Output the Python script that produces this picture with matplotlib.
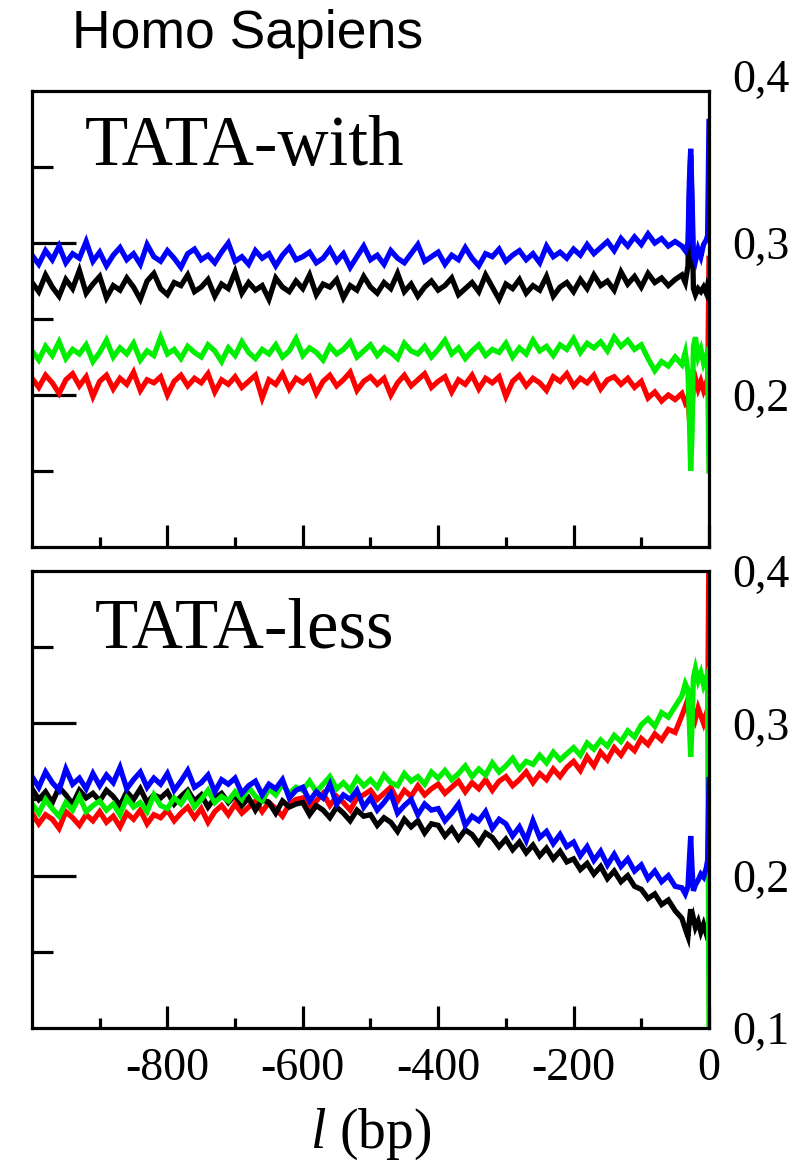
import numpy as np
import matplotlib.pyplot as plt
from matplotlib.ticker import FuncFormatter
from matplotlib.transforms import ScaledTranslation

plt.rcParams['font.family'] = 'Liberation Serif'
plt.rcParams['axes.unicode_minus'] = False
plt.rcParams['mathtext.fontset'] = 'custom'
plt.rcParams['mathtext.it'] = 'Liberation Serif:italic'
plt.rcParams['mathtext.rm'] = 'Liberation Serif'

# positions (bp): every 10 bp up to -50, then finer near the TSS
l_bulk = np.arange(-1000, -40, 10)
l_tail = np.array([-40, -35, -31, -29, -27, -25, -23, -20, -16, -12, -8, -4, -2, 0])
l_pos = np.concatenate([l_bulk, l_tail])

# ---- TATA-with ----
with_blue = [
    0.292, 0.286, 0.295, 0.289, 0.298, 0.287, 0.293, 0.290, 0.301, 0.288,
    0.294, 0.285, 0.292, 0.297, 0.289, 0.293, 0.286, 0.299, 0.291, 0.288,
    0.295, 0.290, 0.284, 0.293, 0.296, 0.289, 0.292, 0.287, 0.294, 0.300,
    0.288, 0.291, 0.286, 0.295, 0.290, 0.293, 0.285, 0.292, 0.297, 0.289,
    0.291, 0.294, 0.287, 0.290, 0.296, 0.288, 0.293, 0.284, 0.291, 0.298,
    0.289, 0.292, 0.286, 0.295, 0.290, 0.287, 0.293, 0.299, 0.288, 0.291,
    0.294, 0.286, 0.292, 0.289, 0.297, 0.290, 0.285, 0.293, 0.291, 0.296,
    0.288, 0.292, 0.295, 0.289, 0.293, 0.287, 0.298, 0.291, 0.294, 0.290,
    0.296, 0.292, 0.299, 0.293, 0.297, 0.301, 0.295, 0.303, 0.298, 0.304,
    0.299, 0.306, 0.300, 0.303, 0.298, 0.301,
    0.298, 0.295, 0.300, 0.340, 0.362, 0.330, 0.292, 0.288, 0.296, 0.291,
    0.299, 0.302, 0.305, 0.380]
with_black = [
    0.274, 0.268, 0.279, 0.271, 0.265, 0.276, 0.270, 0.282, 0.267, 0.273,
    0.278, 0.264, 0.272, 0.269, 0.277, 0.271, 0.263, 0.275, 0.280, 0.270,
    0.266, 0.274, 0.272, 0.279, 0.268, 0.271, 0.276, 0.265, 0.273, 0.270,
    0.281, 0.267, 0.274, 0.269, 0.272, 0.263, 0.277, 0.271, 0.268, 0.275,
    0.270, 0.279, 0.266, 0.273, 0.271, 0.276, 0.264, 0.272, 0.269, 0.278,
    0.271, 0.267, 0.274, 0.270, 0.280, 0.268, 0.273, 0.265, 0.271, 0.275,
    0.269, 0.272, 0.277, 0.266, 0.270, 0.274, 0.268, 0.279, 0.271, 0.263,
    0.273, 0.270, 0.276, 0.267, 0.272, 0.269, 0.278, 0.265, 0.271, 0.274,
    0.268, 0.276, 0.270, 0.279, 0.272, 0.275, 0.269, 0.281, 0.273, 0.278,
    0.271, 0.280, 0.274, 0.277, 0.272, 0.276,
    0.279, 0.274, 0.285, 0.330, 0.358, 0.320, 0.270, 0.266, 0.270, 0.268,
    0.271, 0.267, 0.272, 0.270]
with_green = [
    0.229, 0.223, 0.232, 0.226, 0.235, 0.224, 0.230, 0.227, 0.233, 0.222,
    0.228, 0.236, 0.225, 0.231, 0.227, 0.234, 0.223, 0.229, 0.226, 0.238,
    0.227, 0.230, 0.224, 0.232, 0.228, 0.225, 0.233, 0.229, 0.222, 0.231,
    0.226, 0.235, 0.228, 0.224, 0.230, 0.227, 0.233, 0.225, 0.229, 0.237,
    0.226, 0.231, 0.228, 0.223, 0.232, 0.227, 0.230, 0.235, 0.225, 0.229,
    0.233, 0.226, 0.231, 0.228, 0.224, 0.234, 0.229, 0.227, 0.232, 0.225,
    0.230, 0.236, 0.227, 0.231, 0.224, 0.229, 0.233, 0.226, 0.230, 0.228,
    0.234, 0.225, 0.231, 0.227, 0.236, 0.229, 0.232, 0.226, 0.233, 0.230,
    0.237, 0.228, 0.234, 0.231, 0.235, 0.229, 0.238, 0.232, 0.236, 0.230,
    0.233, 0.224, 0.216, 0.222, 0.219, 0.225,
    0.220, 0.228, 0.215, 0.185, 0.150, 0.175, 0.232, 0.238, 0.225, 0.230,
    0.221, 0.226, 0.220, 0.150]
with_red = [
    0.211, 0.205, 0.213, 0.208, 0.201, 0.210, 0.214, 0.206, 0.212, 0.199,
    0.209, 0.213, 0.204, 0.211, 0.207, 0.215, 0.203, 0.210, 0.208, 0.212,
    0.200, 0.209, 0.213, 0.206, 0.211, 0.208, 0.214, 0.202, 0.210, 0.207,
    0.212, 0.205, 0.209, 0.213, 0.198, 0.210, 0.207, 0.214, 0.204, 0.211,
    0.208, 0.212, 0.201, 0.209, 0.213, 0.206, 0.210, 0.215, 0.203, 0.209,
    0.212, 0.207, 0.211, 0.200, 0.208, 0.213, 0.206, 0.210, 0.214, 0.205,
    0.209, 0.212, 0.202, 0.210, 0.207, 0.213, 0.204, 0.211, 0.208, 0.212,
    0.199, 0.209, 0.213, 0.206, 0.211, 0.208, 0.203, 0.212, 0.209, 0.214,
    0.206, 0.211, 0.208, 0.213, 0.204, 0.210, 0.212, 0.207, 0.211, 0.205,
    0.209, 0.198, 0.202, 0.196, 0.200, 0.197,
    0.201, 0.195, 0.198, 0.185, 0.176, 0.190, 0.207, 0.211, 0.204, 0.209,
    0.203, 0.208, 0.200, 0.290]

# ---- TATA-less ----
less_blue = [
    0.265, 0.258, 0.268, 0.261, 0.256, 0.270, 0.260, 0.264, 0.257, 0.267,
    0.259, 0.266, 0.261, 0.271, 0.257, 0.263, 0.268, 0.258, 0.264, 0.260,
    0.267, 0.256, 0.262, 0.269, 0.258, 0.261, 0.266, 0.255, 0.263, 0.260,
    0.264, 0.254, 0.259, 0.262, 0.253, 0.260, 0.257, 0.263, 0.251, 0.256,
    0.258, 0.249, 0.255, 0.251, 0.260, 0.247, 0.253, 0.250, 0.256, 0.245,
    0.251, 0.243, 0.248, 0.254, 0.241, 0.246, 0.250, 0.240, 0.247, 0.243,
    0.244, 0.236, 0.241, 0.247, 0.233, 0.239, 0.236, 0.242, 0.231, 0.237,
    0.234, 0.226, 0.232, 0.223, 0.236, 0.225, 0.229, 0.221, 0.227, 0.219,
    0.222, 0.213, 0.219, 0.210, 0.216, 0.207, 0.214, 0.206, 0.211, 0.203,
    0.207, 0.198, 0.203, 0.196, 0.200, 0.193,
    0.192, 0.188, 0.193, 0.210, 0.226, 0.205, 0.190, 0.194, 0.197, 0.201,
    0.199, 0.205, 0.210, 0.263]
less_black = [
    0.257, 0.250, 0.255, 0.248, 0.258, 0.253, 0.247, 0.256, 0.251, 0.254,
    0.249, 0.256, 0.252, 0.246, 0.255, 0.250, 0.257, 0.248, 0.253, 0.251,
    0.255, 0.247, 0.252, 0.256, 0.249, 0.253, 0.245, 0.251, 0.254, 0.248,
    0.253, 0.246, 0.251, 0.243, 0.250, 0.248, 0.241, 0.249, 0.245, 0.247,
    0.248, 0.240, 0.246, 0.243, 0.238, 0.245, 0.241, 0.236, 0.243, 0.239,
    0.240, 0.233, 0.238, 0.235, 0.229, 0.237, 0.232, 0.236, 0.228, 0.234,
    0.233, 0.226, 0.231, 0.224, 0.230, 0.227, 0.221, 0.228, 0.225, 0.219,
    0.224, 0.217, 0.222, 0.215, 0.220, 0.213, 0.218, 0.211, 0.216, 0.209,
    0.211, 0.204, 0.208, 0.201, 0.206, 0.198, 0.203, 0.196, 0.200, 0.193,
    0.191, 0.185, 0.188, 0.181, 0.184, 0.177,
    0.172, 0.165, 0.160, 0.170, 0.178, 0.168, 0.172, 0.166, 0.170, 0.163,
    0.168, 0.162, 0.166, 0.165]
less_green = [
    0.247, 0.241, 0.250, 0.244, 0.239, 0.248, 0.243, 0.252, 0.242, 0.246,
    0.249, 0.243, 0.247, 0.240, 0.251, 0.245, 0.248, 0.242, 0.253, 0.246,
    0.244, 0.251, 0.247, 0.254, 0.245, 0.250, 0.256, 0.248, 0.252, 0.249,
    0.255, 0.250, 0.258, 0.252, 0.249, 0.257, 0.253, 0.260, 0.254, 0.258,
    0.256, 0.262, 0.255, 0.260, 0.265, 0.257, 0.261, 0.256, 0.264, 0.259,
    0.263, 0.258, 0.266, 0.261, 0.259, 0.267, 0.262, 0.265, 0.260, 0.268,
    0.264, 0.269, 0.263, 0.267, 0.272, 0.265, 0.270, 0.266, 0.274, 0.268,
    0.272, 0.277, 0.270, 0.275, 0.273, 0.279, 0.274, 0.281, 0.276, 0.280,
    0.284, 0.279, 0.287, 0.283, 0.289, 0.285, 0.292, 0.288, 0.295, 0.291,
    0.299, 0.303, 0.298, 0.307, 0.304, 0.311,
    0.318, 0.326, 0.322, 0.300, 0.278, 0.298, 0.330, 0.336, 0.328, 0.333,
    0.325, 0.330, 0.320, 0.100]
less_red = [
    0.241, 0.234, 0.240, 0.237, 0.231, 0.242, 0.238, 0.233, 0.240, 0.236,
    0.242, 0.235, 0.239, 0.232, 0.241, 0.237, 0.243, 0.234, 0.240, 0.238,
    0.243, 0.236, 0.241, 0.245, 0.238, 0.244, 0.235, 0.242, 0.246, 0.240,
    0.247, 0.241, 0.245, 0.249, 0.242, 0.248, 0.244, 0.239, 0.247, 0.250,
    0.251, 0.245, 0.249, 0.254, 0.246, 0.252, 0.248, 0.243, 0.251, 0.253,
    0.256, 0.250, 0.254, 0.258, 0.249, 0.256, 0.252, 0.259, 0.253, 0.257,
    0.260, 0.254, 0.258, 0.262, 0.255, 0.261, 0.257, 0.263, 0.256, 0.262,
    0.265, 0.259, 0.263, 0.268, 0.261, 0.267, 0.263, 0.270, 0.265, 0.271,
    0.275, 0.269, 0.278, 0.272, 0.281, 0.276, 0.284, 0.279, 0.286, 0.282,
    0.290, 0.286, 0.293, 0.289, 0.296, 0.294,
    0.305, 0.311, 0.316, 0.305, 0.292, 0.300, 0.308, 0.303, 0.310, 0.305,
    0.300, 0.306, 0.298, 0.420]

x_ticks = [-800, -600, -400, -200, 0]
x_minor = [-900, -700, -500, -300, -100]


def fmt_comma(v, pos):
    return ("%.1f" % v).replace(".", ",")


fig = plt.figure(figsize=(8.04, 11.63), dpi=100)
ax1 = fig.add_axes([0.0398, 0.5297, 0.842, 0.392])
ax2 = fig.add_axes([0.0398, 0.1161, 0.842, 0.393])

panels = [
    (ax1, "TATA-with", [(with_red, "#ff0000"), (with_green, "#00ee00"),
                        (with_black, "black"), (with_blue, "#0000ff")],
     [0.2, 0.3, 0.4], (0.078, 0.838)),
    (ax2, "TATA-less", [(less_red, "#ff0000"), (less_black, "black"),
                        (less_green, "#00ee00"), (less_blue, "#0000ff")],
     [0.1, 0.2, 0.3, 0.4], (0.093, 0.832)),
]

for ax, name, series, rlabels, tpos in panels:
    for vals, col in series:
        ax.plot(l_pos, vals, color=col, lw=3.8, solid_joinstyle="miter")
    ax.set_xlim(-1000, 0)
    ax.set_ylim(0.1, 0.4)
    for s in ax.spines.values():
        s.set_linewidth(2.3)
    ax.set_xticks(x_ticks)
    ax.set_xticks(x_minor, minor=True)
    ax.set_yticks([0.2, 0.3])
    ax.set_yticks([0.15, 0.25, 0.35], minor=True)
    ax.tick_params(axis="x", which="major", direction="in", length=16, width=2.3,
                   labelsize=33, pad=14)
    ax.tick_params(axis="x", which="minor", direction="in", length=7, width=2.3)
    ax.tick_params(axis="y", which="major", direction="in", length=32, width=2.3,
                   labelleft=False)
    ax.tick_params(axis="y", which="minor", direction="in", length=15, width=2.3)
    ax.text(tpos[0], tpos[1], name, transform=ax.transAxes, fontsize=51,
            va="baseline", ha="left")

    # value labels on the right side
    axr = ax.twinx()
    axr.set_ylim(0.1, 0.4)
    axr.set_yticks(rlabels)
    axr.yaxis.set_major_formatter(FuncFormatter(fmt_comma))
    axr.tick_params(axis="y", length=0, labelsize=33, pad=17)
    for s in axr.spines.values():
        s.set_visible(False)

    if ax is ax1:
        ax.tick_params(axis="x", labelbottom=False)
        for lab in axr.get_yticklabels():
            if lab.get_text() == "0,4":
                lab.set_transform(lab.get_transform() +
                                  ScaledTranslation(0, 0.15, fig.dpi_scale_trans))

ax2.set_xlabel(r"$\mathit{l}$ (bp)", fontsize=40, labelpad=12)

fig.text(0.0896, 0.9587, "Homo Sapiens", family="Liberation Sans", fontsize=38.5,
         va="baseline", ha="left")

fig.savefig("out.png", dpi=100)
